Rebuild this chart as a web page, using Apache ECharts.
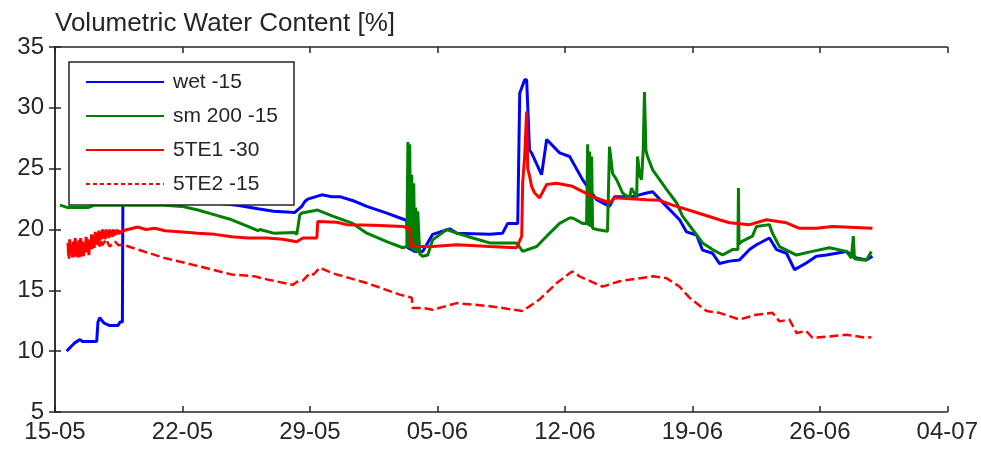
<!DOCTYPE html>
<html>
<head>
<meta charset="utf-8">
<script src="https://cdn.jsdelivr.net/npm/echarts@6/dist/echarts.min.js"></script>
<style>
  html, body { margin: 0; padding: 0; background: #ffffff; }
  #chart { width: 981px; height: 449px; }
</style>
</head>
<body>
<div id="chart"></div>
<script>
// Days since 15-05 on the x axis; weekly tick labels
const tickLabels = ['15-05', '22-05', '29-05', '05-06', '12-06', '19-06', '26-06', '04-07'];
const yTicks = [5, 10, 15, 20, 25, 30, 35];

// Sensor series: [day, volumetric water content %]
const wet15 = [
  [0.64,10.0],[0.9,10.4],[1.1,10.7],[1.37,10.95],[1.5,10.8],[2.29,10.8],[2.36,12.4],[2.45,12.75],
  [2.7,12.3],[3.0,12.1],[3.46,12.1],[3.57,12.4],[3.70,12.4],[3.73,23.2],[4.5,23.0],[6.0,22.7],
  [8.0,22.3],[10.0,22.0],[11.14,21.7],[12.0,21.5],[13.17,21.4],[13.55,21.9],[13.72,22.3],[13.88,22.5],
  [14.65,22.85],[15.2,22.7],[15.64,22.7],[16.5,22.3],[17.12,21.9],[18.22,21.35],[19.21,20.8],[19.32,20.7],
  [19.38,18.5],[19.75,18.2],[20.19,18.2],[20.74,19.6],[21.67,20.05],[22.06,19.7],[23.87,19.6],[24.58,19.7],
  [24.86,20.5],[25.41,20.5],[25.52,31.2],[25.79,32.3],[25.90,32.3],[26.06,26.5],[26.17,26.3],[26.72,24.5],
  [26.78,24.5],[27.0,27.4],[27.71,26.3],[28.26,26.0],[28.97,24.1],[29.74,22.45],[30.45,21.9],[30.73,22.7],
  [31.72,22.7],[32.49,23.0],[32.82,23.1],[33.58,21.9],[34.3,20.8],[34.68,19.8],[35.23,19.55],[35.56,18.3],
  [36.11,18.05],[36.49,17.2],[37.04,17.4],[37.59,17.5],[38.14,18.35],[38.52,18.75],[39.23,19.3],[39.62,18.35],
  [40.17,18.05],[40.61,16.7],[41.26,17.25],[41.81,17.8],[42.36,17.9],[42.91,18.05],[43.46,18.2],[44.01,17.65],
  [44.56,17.5],[44.89,17.8]
];

const sm200 = [
  [0.27,22.0],[0.71,21.8],[1.81,21.8],[2.19,22.0],[4.0,22.0],[6.0,22.0],[6.97,21.9],[7.85,21.6],
  [8.78,21.2],[9.71,20.8],[10.59,20.25],[11.14,19.9],[11.25,20.0],[12.0,19.7],[13.17,19.75],[13.28,19.6],
  [13.44,21.2],[13.55,21.35],[14.43,21.6],[15.25,21.1],[16.35,20.5],[17.12,19.7],[18.22,19.0],[19.10,18.5],
  [19.32,18.6],[19.38,27.2],[19.43,18.5],[19.48,27.0],[19.53,18.4],[19.59,24.5],[19.64,18.3],[19.70,23.8],
  [19.75,18.2],[19.81,21.8],[19.86,18.1],[19.92,21.5],[20.03,18.0],[20.19,17.8],[20.47,17.9],[20.74,19.15],
  [21.51,20.0],[22.06,19.7],[22.94,19.3],[23.87,18.9],[25.35,18.9],[25.68,18.2],[26.45,18.6],[27.0,19.45],
  [27.71,20.5],[28.26,20.95],[28.42,20.95],[28.97,20.5],[29.19,20.5],[29.25,27.0],[29.30,20.3],[29.36,26.4],
  [29.41,20.2],[29.47,26.0],[29.52,20.1],[29.74,20.0],[30.34,19.85],[30.40,19.85],[30.45,26.8],[30.62,24.6],
  [30.84,24.1],[31.17,23.0],[31.55,22.6],[31.66,23.4],[31.94,22.6],[31.99,26.0],[32.1,24.5],[32.21,24.1],
  [32.3,26.5],[32.37,31.3],[32.45,26.5],[32.54,26.0],[32.82,24.9],[33.20,24.1],[33.58,23.3],[34.13,22.2],
  [34.46,21.1],[35.01,20.0],[35.56,18.9],[36.11,18.35],[36.49,18.05],[36.66,17.9],[37.20,18.35],[37.50,18.35],
  [37.53,23.4],[37.56,18.8],[37.70,19.0],[38.30,19.45],[38.52,20.25],[39.23,20.4],[39.40,19.7],[39.78,18.6],
  [40.72,17.9],[41.59,18.2],[42.53,18.5],[43.46,18.2],[43.73,17.65],[43.79,17.65],[43.84,19.45],[43.90,17.6],
  [44.34,17.5],[44.56,17.5],[44.83,18.2]
];

const te1_30 = [
  [0.71,18.9],[0.76,17.9],[0.81,19.2],[0.86,18.0],[0.91,18.8],[0.96,17.7],[1.01,19.0],[1.06,18.2],
  [1.11,19.3],[1.16,17.8],[1.21,18.6],[1.26,17.7],[1.31,19.1],[1.36,18.0],[1.41,19.3],[1.46,18.4],
  [1.51,19.0],[1.56,17.8],[1.61,18.9],[1.66,18.1],[1.71,19.4],[1.76,18.3],[1.81,19.2],[1.86,17.9],
  [1.91,19.0],[1.96,18.4],[2.01,19.6],[2.06,18.6],[2.11,19.5],[2.16,18.7],[2.21,19.8],[2.26,18.9],
  [2.31,19.7],[2.36,19.0],[2.41,19.9],[2.46,19.1],[2.51,19.8],[2.56,19.2],[2.61,20.0],[2.66,19.3],
  [2.71,19.9],[2.76,19.2],[2.81,20.0],[2.86,19.4],[2.91,19.9],[2.96,19.3],[3.01,20.0],[3.06,19.5],
  [3.11,19.9],[3.16,19.4],[3.21,20.0],[3.26,19.5],[3.31,19.9],[3.36,19.6],[3.41,20.0],[3.46,19.6],
  [3.51,19.9],[3.6,19.7],[3.73,19.9],
  [4.0,20.0],[4.55,20.2],[5.0,20.0],[5.49,20.1],[6.04,19.9],[7.0,19.8],[7.85,19.7],[8.78,19.6],
  [9.71,19.4],[10.59,19.3],[11.63,19.3],[12.5,19.2],[13.28,19.0],[13.61,19.3],[14.38,19.3],[14.43,20.65],
  [15.47,20.6],[16.02,20.4],[17.5,20.35],[19.10,20.25],[19.48,20.1],[19.59,18.6],[20.74,18.6],[22.06,18.75],
  [23.87,18.6],[25.35,18.5],[25.63,19.45],[25.68,23.8],[25.79,26.0],[25.90,29.7],[25.96,25.0],[26.06,24.4],
  [26.17,23.55],[26.34,23.0],[26.61,22.6],[27.0,23.7],[27.55,23.8],[28.42,23.55],[29.52,22.7],[30.45,22.2],
  [30.73,22.6],[32.49,22.45],[33.20,22.4],[33.91,22.0],[35.01,21.5],[36.49,20.8],[37.04,20.55],[38.14,20.4],
  [39.07,20.8],[40.17,20.55],[40.88,20.1],[41.81,20.1],[42.69,20.25],[44.89,20.1]
];

const te2_15 = [
  [0.71,18.3],[0.78,17.6],[0.85,18.6],[0.92,17.8],[0.99,18.5],[1.06,17.6],[1.13,18.4],[1.20,17.9],
  [1.27,18.8],[1.34,17.7],[1.41,18.5],[1.48,17.8],[1.55,18.7],[1.62,18.0],[1.69,18.9],[1.76,18.2],
  [1.83,19.0],[1.90,18.3],[1.97,19.1],[2.04,18.4],[2.11,19.2],[2.18,18.5],[2.25,19.2],[2.32,18.6],
  [2.39,19.3],[2.46,18.6],[2.53,19.2],[2.60,18.7],[2.8,19.2],[3.0,18.6],[3.3,19.0],[3.5,18.7],
  [3.73,18.75],[4.55,18.35],[6.04,17.65],[7.85,17.0],[9.71,16.3],[10.97,16.15],[11.63,15.9],[13.06,15.45],
  [13.3,15.7],[13.61,15.8],[13.99,16.4],[14.2,16.3],[14.54,16.85],[15.25,16.4],[17.12,15.6],[18.93,14.65],
  [19.59,14.4],[19.64,13.55],[20.19,13.55],[20.74,13.4],[22.06,13.95],[23.87,13.7],[25.68,13.3],[26.61,14.25],
  [27.55,15.6],[28.26,16.4],[28.4,16.55],[28.81,16.15],[30.07,15.3],[31.0,15.75],[32.82,16.15],[33.58,16.0],
  [34.30,15.3],[34.84,14.4],[35.78,13.3],[36.49,13.15],[37.59,12.6],[38.52,13.0],[39.40,13.15],[39.78,12.45],
  [40.33,12.6],[40.72,11.5],[41.26,11.65],[41.59,11.1],[42.53,11.2],[43.46,11.35],[44.56,11.1],[44.83,11.15]
];

const seriesNames = ['wet -15', 'sm 200 -15', '5TE1 -30', '5TE2 -15'];

const frameColor = '#262626';
const textColor = '#262626';
const fontFamily = '"Liberation Sans", Arial, sans-serif';

const xBase = {
  type: 'value', min: 0, max: 49, interval: 7,
  axisLine: { show: true, lineStyle: { color: frameColor, width: 1.5 } },
  axisTick: { show: true, inside: true, length: 6, lineStyle: { color: frameColor, width: 1.5 } },
  splitLine: { show: false }
};
const yBase = {
  type: 'value', min: 5, max: 35, interval: 5,
  axisLine: { show: true, lineStyle: { color: frameColor, width: 1.5 } },
  axisTick: { show: true, inside: true, length: 6, lineStyle: { color: frameColor, width: 1.5 } },
  splitLine: { show: false }
};

const chart = echarts.init(document.getElementById('chart'), null, { renderer: 'canvas' });

chart.setOption({
  animation: false,
  backgroundColor: '#ffffff',
  title: {
    text: 'Volumetric Water Content [%]',
    left: 50, top: 6,
    textStyle: { fontFamily, fontSize: 26, fontWeight: 'normal', color: textColor }
  },
  grid: { left: 55, top: 47, right: 33, bottom: 37 },
  legend: {
    orient: 'vertical',
    left: 69, top: 62,
    padding: [9, 15, 10, 16],
    itemWidth: 78, itemHeight: 22, itemGap: 12,
    backgroundColor: '#ffffff',
    borderColor: frameColor, borderWidth: 1.5,
    // line-only legend keys (no marker)
    itemStyle: { color: 'transparent', borderColor: 'transparent', borderWidth: 0 },
    textStyle: { fontFamily, fontSize: 21, color: textColor, width: 106, lineHeight: 22, padding: [0, 0, 0, 4] },
    data: [
      { name: seriesNames[0] },
      { name: seriesNames[1] },
      { name: seriesNames[2] },
      { name: seriesNames[3], lineStyle: { type: [4, 3] } }
    ]
  },
  xAxis: [
    Object.assign({}, xBase, {
      position: 'bottom',
      axisLabel: {
        show: true, margin: 8, fontFamily, fontSize: 24, color: textColor,
        formatter: v => tickLabels[Math.round(v / 7)] || ''
      }
    }),
    Object.assign({}, xBase, { position: 'top', axisLabel: { show: false } })
  ],
  yAxis: [
    Object.assign({}, yBase, {
      position: 'left',
      axisLabel: { show: true, margin: 11, fontFamily, fontSize: 24, color: textColor,
        formatter: v => (yTicks.indexOf(v) >= 0 ? String(v) : '') }
    }),
    Object.assign({}, yBase, { position: 'right', axisLabel: { show: false } })
  ],
  series: [
    { name: seriesNames[0], type: 'line', data: wet15, showSymbol: false, symbol: 'none',
      lineStyle: { color: '#0000ff', width: 3 }, itemStyle: { color: '#0000ff' } },
    { name: seriesNames[1], type: 'line', data: sm200, showSymbol: false, symbol: 'none',
      lineStyle: { color: '#008000', width: 3 }, itemStyle: { color: '#008000' } },
    { name: seriesNames[2], type: 'line', data: te1_30, showSymbol: false, symbol: 'none',
      lineStyle: { color: '#ff0000', width: 3 }, itemStyle: { color: '#ff0000' } },
    { name: seriesNames[3], type: 'line', data: te2_15, showSymbol: false, symbol: 'none',
      lineStyle: { color: '#ff0000', width: 2.5, type: [9, 4] }, itemStyle: { color: '#ff0000' } }
  ]
});
</script>
</body>
</html>
